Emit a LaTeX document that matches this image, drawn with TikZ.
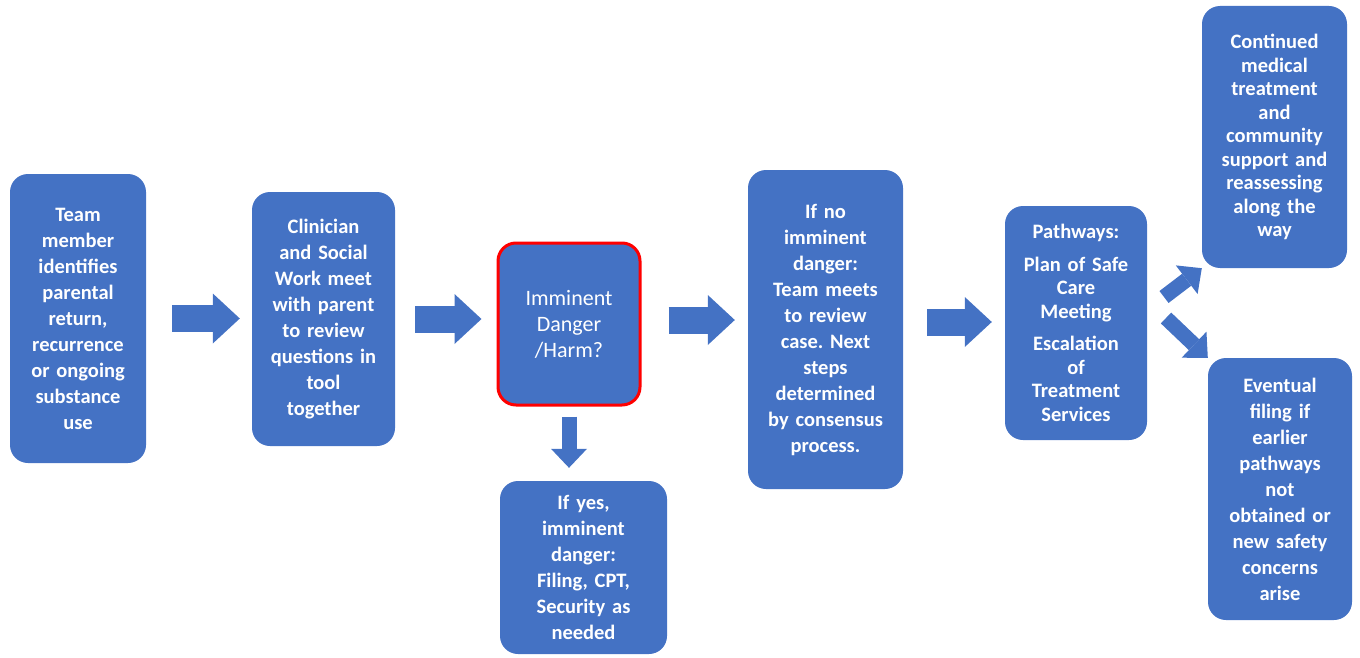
\documentclass[tikz,border=0pt]{standalone}
\usepackage{fontspec}
\setmainfont{Carlito}
\usetikzlibrary{arrows.meta}
\definecolor{boxblue}{HTML}{4472C4}
\definecolor{alertred}{HTML}{FF0000}
\frenchspacing
\tikzset{
  flowbox/.style={fill=boxblue, rounded corners=18pt, inner sep=4pt, align=center,
    text=white, font=\fontsize{20.5pt}{26pt}\selectfont\bfseries},
  tightbox/.style={flowbox, font=\fontsize{20.5pt}{23.5pt}\selectfont\bfseries},
  blockarrow/.style={draw=boxblue, line width=27pt,
    -{Triangle[length=27pt,width=50pt,line width=0pt]}},
  smallarrow/.style={draw=boxblue, line width=15pt,
    -{Triangle[length=19pt,width=36pt,line width=0pt]}},
}

\begin{document}
\begin{tikzpicture}[x=1pt,y=-1pt]
\useasboundingbox (0,0) rectangle (1360,658);
% boxes
\node[flowbox, minimum width=136pt, minimum height=289pt, text width=128pt] (team) at (78,318.5)
  {Team\\member\\identifies\\parental\\return,\\recurrence\\or ongoing\\substance\\use};
\node[flowbox, minimum width=143pt, minimum height=254pt, text width=135pt] (meet) at (323.5,319)
  {Clinician\\and Social\\Work meet\\with parent\\to review\\questions in\\tool\\together};
\node[flowbox, draw=alertred, line width=3pt, font=\fontsize{22pt}{26pt}\selectfont,
  minimum width=142pt, minimum height=162pt, text width=134pt] (danger) at (569,324)
  {Imminent\\Danger\\/Harm?};
\node[flowbox, minimum width=167pt, minimum height=173pt, text width=159pt] (yesdanger) at (583.5,567.5)
  {If yes,\\imminent\\danger:\\Filing, CPT,\\Security as\\needed};
\node[flowbox, minimum width=155pt, minimum height=319pt, text width=147pt] (nodanger) at (825.5,329.5)
  {If no\\imminent\\danger:\\Team meets\\to review\\case. Next\\steps\\determined\\by consensus\\process.};
\node[tightbox, minimum width=142pt, minimum height=234pt, text width=134pt] (paths) at (1076,323)
  {Pathways:\\[9pt]Plan of Safe\\Care\\Meeting\\[9pt]Escalation\\of\\Treatment\\Services};
\node[tightbox, minimum width=145pt, minimum height=262pt, text width=137pt] (contd) at (1274.5,137)
  {Continued\\medical\\treatment\\and\\community\\support and\\reassessing\\along the\\way};
\node[flowbox, minimum width=144pt, minimum height=262pt, text width=136pt] (filing) at (1280,489)
  {Eventual\\filing if\\earlier\\pathways\\not\\obtained or\\new safety\\concerns\\arise};
% arrows
\draw[blockarrow, shorten <=26pt, shorten >=12pt] (team.east) -- (team.east -| meet.west);
\draw[blockarrow, shorten <=20pt, shorten >=15pt] (meet.east) -- (meet.east -| danger.west);
\draw[blockarrow, shorten <=27pt, shorten >=13pt] ([yshift=4pt]danger.east) -- ([yshift=4pt]danger.east -| nodanger.west);
\draw[blockarrow, shorten <=24pt, shorten >=13pt] ([yshift=1pt]paths.west -| nodanger.east) -- ([yshift=1pt]paths.west);
\draw[smallarrow, shorten <=10pt, shorten >=13pt] (danger.south) -- (danger.south |- yesdanger.north);
\coordinate (upfoot) at (1164,297);
\coordinate (downfoot) at (1166,318);
\draw[smallarrow] (upfoot) -- (contd.south west);
\draw[smallarrow] (downfoot) -- (filing.north west);
\end{tikzpicture}
\end{document}
